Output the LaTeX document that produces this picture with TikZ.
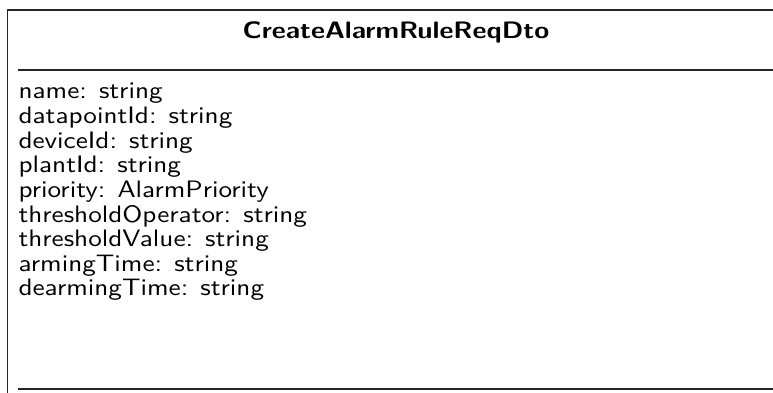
\documentclass[tikz,border=0pt]{standalone}
\begin{document}
\begin{tikzpicture}[x=1pt,y=-1pt,
  frame/.style={line width=1.2pt,draw=black!85},
  sep/.style={line width=1.2pt,draw=black!85},
  titletext/.style={font=\sffamily\bfseries\fontsize{10}{12}\selectfont,inner sep=0pt,xscale=2.72,yscale=2.38,transform shape,anchor=base},
  attrtext/.style={font=\sffamily\fontsize{10}{12}\selectfont,inner sep=0pt,xscale=2.72,yscale=2.38,transform shape,anchor=base west}]
\useasboundingbox (0,0) rectangle (773,393);
\coordinate (tl) at (7.5,10);
\coordinate (tr) at (775,10);
\coordinate (bl) at (7.5,395);
\draw[frame] (bl) -- (tl) -- (tr);
\node[titletext] (title) at (396,38.5) {CreateAlarmRuleReqDto};
\coordinate (s1a) at (18,70);
\coordinate (s1b) at (775,70);
\draw[sep] (s1a) -- (s1b);
\node[attrtext] (a1) at (18,99) {name: string};
\node[attrtext] (a2) at (18,123.6) {datapointId: string};
\node[attrtext] (a3) at (18,148.2) {deviceId: string};
\node[attrtext] (a4) at (18,172.8) {plantId: string};
\node[attrtext] (a5) at (18,197.4) {priority: AlarmPriority};
\node[attrtext] (a6) at (18,222) {thresholdOperator: string};
\node[attrtext] (a7) at (18,246.6) {thresholdValue: string};
\node[attrtext] (a8) at (18,271.2) {armingTime: string};
\node[attrtext] (a9) at (18,295.8) {dearmingTime: string};
\coordinate (s2a) at (18,389);
\coordinate (s2b) at (775,389);
\draw[sep] (s2a) -- (s2b);
\end{tikzpicture}
\end{document}
